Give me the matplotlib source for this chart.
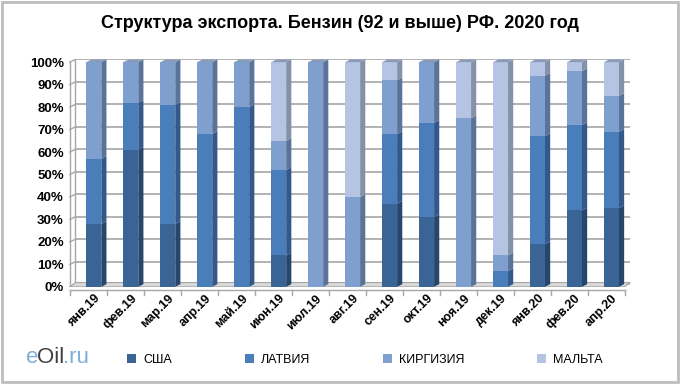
import matplotlib
matplotlib.use("Agg")
import matplotlib.pyplot as plt
from matplotlib.patches import Polygon, Rectangle
import numpy as np

months = ["янв.19", "фев.19", "мар.19", "апр.19", "май.19", "июн.19", "июл.19",
          "авг.19", "сен.19", "окт.19", "ноя.19", "дек.19", "янв.20", "фев.20", "апр.20"]
usa      = [28, 61, 28, 0, 0, 14, 0, 0, 37, 31, 0, 0, 19, 34, 35]
latvia   = [29, 21, 53, 68, 80, 38, 0, 0, 31, 42, 0, 7, 48, 38, 34]
kirgizia = [43, 18, 19, 32, 20, 13, 100, 40, 24, 27, 75, 7, 27, 24, 16]
malta    = [0, 0, 0, 0, 0, 35, 0, 60, 8, 0, 25, 86, 6, 4, 15]
series_names = ["США", "ЛАТВИЯ", "КИРГИЗИЯ", "МАЛЬТА"]
yticks = [0, 10, 20, 30, 40, 50, 60, 70, 80, 90, 100]

colors = ["#3B6496", "#4A7EBB", "#7F9FCF", "#B4C4E2"]
side_colors = ["#27466C", "#33598A", "#5A7399", "#8591A8"]

fig = plt.figure(figsize=(6.8, 3.84), dpi=100)
fig.patch.set_facecolor("white")
fig.add_artist(Rectangle((0.003, 0.005), 0.994, 0.99, transform=fig.transFigure,
                         fill=False, edgecolor="#BDBDBD", linewidth=2))

ax = fig.add_axes([0.1, 0.253, 0.832, 0.594])
x = np.arange(len(months))
w = 0.4
dx, dy = 0.14, 1.2

# back wall grid (3D-like shift)
for t in yticks:
    ax.plot([0, len(months)], [t + dy, t + dy], color="#A6A6A6", lw=1.2, zorder=0,
            solid_capstyle="butt")
    ax.plot([-0.15, 0], [t, t + dy], color="#A6A6A6", lw=1.0, zorder=0)
ax.plot([0, 0], [dy, 100 + dy], color="#A6A6A6", lw=1.0, zorder=0)
# floor
ax.add_patch(Polygon([[-0.15, 0], [len(months) - 0.15, 0], [len(months), dy * 1.6],
                      [0, dy * 1.6]], closed=True, facecolor="#D9D9D9",
                     edgecolor="#A6A6A6", lw=0.8, zorder=1))

bottom = np.zeros(len(months))
data = [usa, latvia, kirgizia, malta]
for vals, c, sc, name in zip(data, colors, side_colors, series_names):
    vals = np.array(vals, dtype=float)
    ax.bar(x + 0.5, vals, w, bottom=bottom, color=c, edgecolor="none", zorder=3, label=name)
    for xi, b, v in zip(x, bottom, vals):
        if v <= 0:
            continue
        xr = xi + 0.5 + w / 2
        ax.add_patch(Polygon([[xr, b], [xr + dx, b + dy], [xr + dx, b + v + dy], [xr, b + v]],
                             closed=True, facecolor=sc, edgecolor="none", zorder=3))
    bottom = bottom + vals
# tops
for xi, tot in zip(x, bottom):
    xl = xi + 0.5 - w / 2
    ax.add_patch(Polygon([[xl, tot], [xl + w, tot], [xl + w + dx, tot + dy], [xl + dx, tot + dy]],
                         closed=True, facecolor="#8A9BB8", edgecolor="none", zorder=3))

ax.set_xlim(-0.2, len(months) + 0.1)
ax.set_ylim(0, 101.5)
ax.set_yticks(yticks)
ax.set_yticklabels([f"{t}%" for t in yticks], fontsize=9.5, fontweight="bold",
                   family="Liberation Sans")
ax.set_xticks(x + 0.5)
ax.set_xticklabels(months, rotation=45, ha="right", rotation_mode="anchor",
                   fontsize=9, fontweight="bold", family="Liberation Sans")
ax.tick_params(axis="x", length=0, pad=4)
ax.tick_params(axis="y", length=0, pad=3)
for s in ax.spines.values():
    s.set_visible(False)
# category boundary ticks along the bottom
ax.plot([-0.15, len(months) - 0.15], [-1.5, -1.5], color="#A6A6A6", lw=1, clip_on=False)
for xi in range(len(months) + 1):
    ax.plot([xi - 0.15, xi - 0.15], [-1.5, -3.5], color="#A6A6A6", lw=1, clip_on=False)
ax.plot([-0.15, -0.15], [0, 100], color="#A6A6A6", lw=1, zorder=0)

fig.text(0.5, 0.94, "Структура экспорта. Бензин (92 и выше) РФ. 2020 год",
         ha="center", va="center", fontsize=13, fontweight="bold", family="Liberation Sans")

leg = fig.legend(loc="center", bbox_to_anchor=(0.537, 0.0625), ncol=4, frameon=False,
                 prop={"family": "Liberation Sans", "size": 9},
                 handlelength=0.7, handleheight=0.7, columnspacing=5.8, handletextpad=0.6)

fig.text(0.038, 0.068, "e", color="#7FAEDC", fontsize=16, family="Liberation Sans",
         ha="left", va="center")
fig.text(0.0545, 0.068, "Oil", color="#404040", fontsize=16, family="Liberation Sans",
         ha="left", va="center")
fig.text(0.0925, 0.068, ".ru", color="#7FAEDC", fontsize=16, family="Liberation Sans",
         ha="left", va="center")

fig.savefig("out.png", dpi=100)
